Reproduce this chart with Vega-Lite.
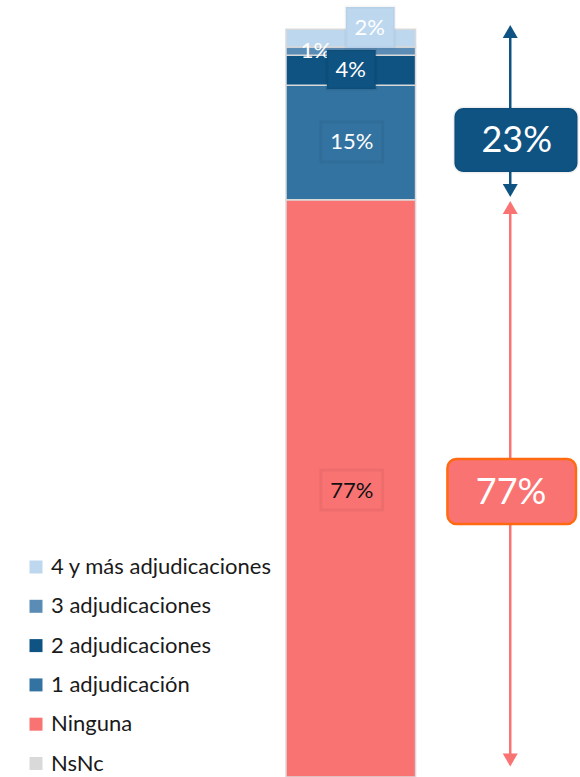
{
  "$schema": "https://vega.github.io/schema/vega-lite/v6.json",
  "width": 580,
  "height": 777,
  "autosize": {"type": "fit", "contains": "padding"},
  "padding": 0,
  "background": "white",
  "config": {
    "view": {"stroke": null},
    "font": "Lato",
    "text": {"font": "Lato"}
  },
  "data": {
    "values": [
      {"cat": "NsNc", "value": 0, "label": "", "ord": 0},
      {"cat": "Ninguna", "value": 77.2, "label": "77%", "ord": 1},
      {"cat": "1 adjudicación", "value": 15.3, "label": "15%", "ord": 2},
      {"cat": "2 adjudicaciones", "value": 4.0, "label": "4%", "ord": 3},
      {"cat": "3 adjudicaciones", "value": 1.1, "label": "1%", "ord": 4},
      {"cat": "4 y más adjudicaciones", "value": 2.4, "label": "2%", "ord": 5}
    ]
  },
  "layer": [
    {
      "transform": [{"stack": "value", "groupby": [], "sort": [{"field": "ord", "order": "ascending"}], "as": ["v0", "v1"]}],
      "mark": {"type": "rect", "stroke": "#D9D9D9", "strokeWidth": 1.5, "clip": true},
      "encoding": {
        "x": {"datum": 0, "type": "quantitative", "scale": {"domain": [-2.2077, 2.2538], "nice": false, "zero": false}, "axis": null},
        "x2": {"datum": 1},
        "y": {"field": "v0", "type": "quantitative", "scale": {"domain": [0, 103.9], "nice": false, "zero": false}, "axis": null},
        "y2": {"field": "v1"},
        "color": {
          "field": "cat",
          "type": "nominal",
          "scale": {
            "domain": ["4 y más adjudicaciones", "3 adjudicaciones", "2 adjudicaciones", "1 adjudicación", "Ninguna", "NsNc"],
            "range": ["#BDD7EE", "#5B8CB6", "#0F5383", "#3373A1", "#FA7373", "#D9D9D9"]
          },
          "legend": {
            "title": null,
            "orient": "none",
            "legendX": 25,
            "legendY": 556,
            "padding": 0,
            "symbolType": "square",
            "symbolSize": 169,
            "symbolStrokeWidth": 0,
            "labelFont": "Lato",
            "labelFontSize": 22,
            "labelColor": "#1a1a1a",
            "labelOffset": 4,
            "rowPadding": 17.3,
            "labelLimit": 400
          }
        }
      }
    },
    {
      "transform": [{"filter": "datum.cat == '4 y más adjudicaciones'"}],
      "mark": {"type": "rect", "fill": "#BDD7EE", "stroke": "#000000", "strokeOpacity": 0.03, "strokeWidth": 3},
      "encoding": {"x": {"datum": 0.4615}, "x2": {"datum": 0.8385}, "y": {"datum": 102.96}, "y2": {"datum": 97.48}}
    },
    {
      "transform": [{"filter": "datum.cat == '4 y más adjudicaciones'"}],
      "mark": {"type": "text", "fontSize": 22, "color": "white", "align": "center", "baseline": "middle"},
      "encoding": {"x": {"datum": 0.646}, "y": {"datum": 100.16}, "text": {"field": "label"}}
    },
    {
      "transform": [{"filter": "datum.cat == '3 adjudicaciones'"}],
      "mark": {"type": "text", "fontSize": 22, "color": "white", "align": "center", "baseline": "middle"},
      "encoding": {"x": {"datum": 0.2308}, "y": {"datum": 97.08}, "text": {"field": "label"}}
    },
    {
      "transform": [{"filter": "datum.cat == '2 adjudicaciones'"}],
      "mark": {"type": "rect", "fill": "#0F5383", "stroke": "#000000", "strokeOpacity": 0.07, "strokeWidth": 3},
      "encoding": {"x": {"datum": 0.3154}, "x2": {"datum": 0.6923}, "y": {"datum": 97.21}, "y2": {"datum": 92.0}}
    },
    {
      "transform": [{"filter": "datum.cat == '2 adjudicaciones'"}],
      "mark": {"type": "text", "fontSize": 22, "color": "white", "align": "center", "baseline": "middle"},
      "encoding": {"x": {"datum": 0.5}, "y": {"datum": 94.54}, "text": {"field": "label"}}
    },
    {
      "transform": [{"filter": "datum.cat == '1 adjudicación'"}],
      "mark": {"type": "rect", "fill": "#3373A1", "stroke": "#000000", "strokeOpacity": 0.05, "strokeWidth": 3},
      "encoding": {"x": {"datum": 0.2692}, "x2": {"datum": 0.7462}, "y": {"datum": 87.59}, "y2": {"datum": 82.24}}
    },
    {
      "transform": [{"filter": "datum.cat == '1 adjudicación'"}],
      "mark": {"type": "text", "fontSize": 22, "color": "white", "align": "center", "baseline": "middle"},
      "encoding": {"x": {"datum": 0.5077}, "y": {"datum": 84.91}, "text": {"field": "label"}}
    },
    {
      "transform": [{"filter": "datum.cat == 'Ninguna'"}],
      "mark": {"type": "rect", "fill": "#FA7373", "stroke": "#000000", "strokeOpacity": 0.05, "strokeWidth": 3},
      "encoding": {"x": {"datum": 0.2692}, "x2": {"datum": 0.7462}, "y": {"datum": 41.05}, "y2": {"datum": 35.7}}
    },
    {
      "transform": [{"filter": "datum.cat == 'Ninguna'"}],
      "mark": {"type": "text", "fontSize": 22, "color": "#111111", "align": "center", "baseline": "middle"},
      "encoding": {"x": {"datum": 0.5077}, "y": {"datum": 38.31}, "text": {"field": "label"}}
    },
    {
      "data": {"values": [{"group": "Con adjudicación"}]},
      "mark": {"type": "rule", "color": "#0F5383", "strokeWidth": 2.5},
      "encoding": {"x": {"datum": 1.7308}, "y": {"datum": 99.69}, "y2": {"datum": 78.43}}
    },
    {
      "data": {"values": [{"group": "Con adjudicación"}]},
      "mark": {"type": "point", "shape": "triangle-up", "filled": true, "size": 225, "color": "#0F5383", "opacity": 1},
      "encoding": {"x": {"datum": 1.7308}, "y": {"datum": 99.69}}
    },
    {
      "data": {"values": [{"group": "Con adjudicación"}]},
      "mark": {"type": "point", "shape": "triangle-down", "filled": true, "size": 225, "color": "#0F5383", "opacity": 1},
      "encoding": {"x": {"datum": 1.7308}, "y": {"datum": 78.43}}
    },
    {
      "data": {"values": [{"group": "Ninguna"}]},
      "mark": {"type": "rule", "color": "#FA7373", "strokeWidth": 2.5},
      "encoding": {"x": {"datum": 1.7308}, "y": {"datum": 76.15}, "y2": {"datum": 2.27}}
    },
    {
      "data": {"values": [{"group": "Ninguna"}]},
      "mark": {"type": "point", "shape": "triangle-up", "filled": true, "size": 225, "color": "#FA7373", "opacity": 1},
      "encoding": {"x": {"datum": 1.7308}, "y": {"datum": 76.15}}
    },
    {
      "data": {"values": [{"group": "Ninguna"}]},
      "mark": {"type": "point", "shape": "triangle-down", "filled": true, "size": 225, "color": "#FA7373", "opacity": 1},
      "encoding": {"x": {"datum": 1.7308}, "y": {"datum": 2.27}}
    },
    {
      "data": {"values": [{"group": "Con adjudicación", "total": "23%"}]},
      "mark": {"type": "rect", "fill": "#0F5383", "cornerRadius": 9, "stroke": "#000000", "strokeOpacity": 0.06, "strokeWidth": 3},
      "encoding": {"x": {"datum": 1.3}, "x2": {"datum": 2.25}, "y": {"datum": 89.46}, "y2": {"datum": 80.9}}
    },
    {
      "data": {"values": [{"group": "Con adjudicación", "total": "23%"}]},
      "mark": {"type": "text", "fontSize": 36, "color": "white", "align": "center", "baseline": "middle"},
      "encoding": {"x": {"datum": 1.781}, "y": {"datum": 84.98}, "text": {"field": "total"}}
    },
    {
      "data": {"values": [{"group": "Ninguna", "total": "77%"}]},
      "mark": {"type": "rect", "fill": "#FA7373", "cornerRadius": 9, "stroke": "#FF6A10", "strokeWidth": 2.5},
      "encoding": {"x": {"datum": 1.246}, "x2": {"datum": 2.238}, "y": {"datum": 42.52}, "y2": {"datum": 33.83}}
    },
    {
      "data": {"values": [{"group": "Ninguna", "total": "77%"}]},
      "mark": {"type": "text", "fontSize": 36, "color": "white", "align": "center", "baseline": "middle"},
      "encoding": {"x": {"datum": 1.738}, "y": {"datum": 38.04}, "text": {"field": "total"}}
    }
  ]
}
